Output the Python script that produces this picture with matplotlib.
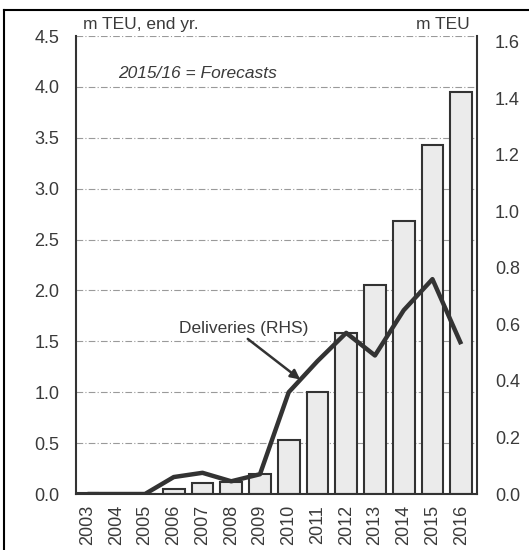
import matplotlib
matplotlib.use("Agg")
import matplotlib.pyplot as plt
from matplotlib.lines import Line2D

years = ["2003", "2004", "2005", "2006", "2007", "2008", "2009", "2010",
         "2011", "2012", "2013", "2014", "2015", "2016"]
fleet_mteu = [0.01, 0.0, 0.0, 0.05, 0.11, 0.12, 0.20, 0.53,
              1.0, 1.58, 2.05, 2.68, 3.43, 3.95]
deliveries_mteu = [0.0, 0.0, 0.0, 0.06, 0.075, 0.045, 0.07, 0.36,
                   0.47, 0.57, 0.49, 0.65, 0.76, 0.53]
left_ticks = [0.0, 0.5, 1.0, 1.5, 2.0, 2.5, 3.0, 3.5, 4.0, 4.5]
right_ticks = [0.0, 0.2, 0.4, 0.6, 0.8, 1.0, 1.2, 1.4, 1.6]

plt.rcParams['font.family'] = ['Liberation Sans', 'DejaVu Sans']
txt = '#3a3a3a'

fig = plt.figure(figsize=(5.29, 5.5), dpi=100)
ax = fig.add_axes([0.1437, 0.1018, 0.9017 - 0.1437, 0.9345 - 0.1018])
x = list(range(len(years)))

for t in left_ticks[1:]:
    ax.axhline(t, color='#9a9a9a', lw=0.8, ls=(0, (6, 2, 1, 2)), zorder=0)

ax.bar(x, fleet_mteu, width=0.76, color='#ebebeb', edgecolor='#333333',
       linewidth=1.5, zorder=2)
ax.set_xlim(-0.4, 13.55)
ax.set_ylim(0, 4.5)
ax.set_yticks(left_ticks)
ax.set_yticklabels([f"{v:.1f}" for v in left_ticks])
ax.set_xticks(x)
ax.set_xticklabels(years, rotation=90)
ax.tick_params(axis='both', length=0, labelsize=13, colors=txt)
ax.tick_params(axis='y', pad=12)
ax.tick_params(axis='x', pad=8)
for s in ['left', 'right', 'bottom']:
    ax.spines[s].set_linewidth(1.5)
    ax.spines[s].set_color('#333333')
ax.spines['top'].set_visible(False)

ax2 = ax.twinx()
ax2.plot(x, deliveries_mteu, color='#333333', lw=3.2, solid_joinstyle='round',
         solid_capstyle='butt', zorder=5)
ax2.set_ylim(0, 1.62)
ax2.set_yticks(right_ticks)
ax2.set_yticklabels([f"{v:.1f}" for v in right_ticks])
ax2.tick_params(axis='y', length=0, labelsize=13, colors=txt, pad=13)
for s in ['left', 'right', 'bottom', 'top']:
    ax2.spines[s].set_visible(False)

fig.text(0.156, 0.955, "m TEU, end yr.", fontsize=12.5, color=txt, va='center')
fig.text(0.888, 0.955, "m TEU", fontsize=12.5, color=txt, va='center', ha='right')
fig.text(0.223, 0.867, "2015/16 = Forecasts", fontsize=12.5, color=txt,
         va='center', style='italic')

ax2.annotate("Deliveries (RHS)", xy=(7.4, 0.405), xycoords='data',
             xytext=(3.2, 0.585), textcoords='data', fontsize=12.5, color=txt,
             va='center', ha='left',
             arrowprops=dict(arrowstyle='-|>', color='#333333', lw=1.8,
                             mutation_scale=14, shrinkA=0, shrinkB=0,
                             relpos=(0.5, 0.0)))

# outer frame (top and left edges)
fig.add_artist(Line2D([0.008, 1.0], [0.982, 0.982], color='black', lw=1.5,
                      transform=fig.transFigure))
fig.add_artist(Line2D([0.008, 0.008], [0.0, 0.982], color='black', lw=1.5,
                      transform=fig.transFigure))

fig.savefig("out.png", dpi=100)
